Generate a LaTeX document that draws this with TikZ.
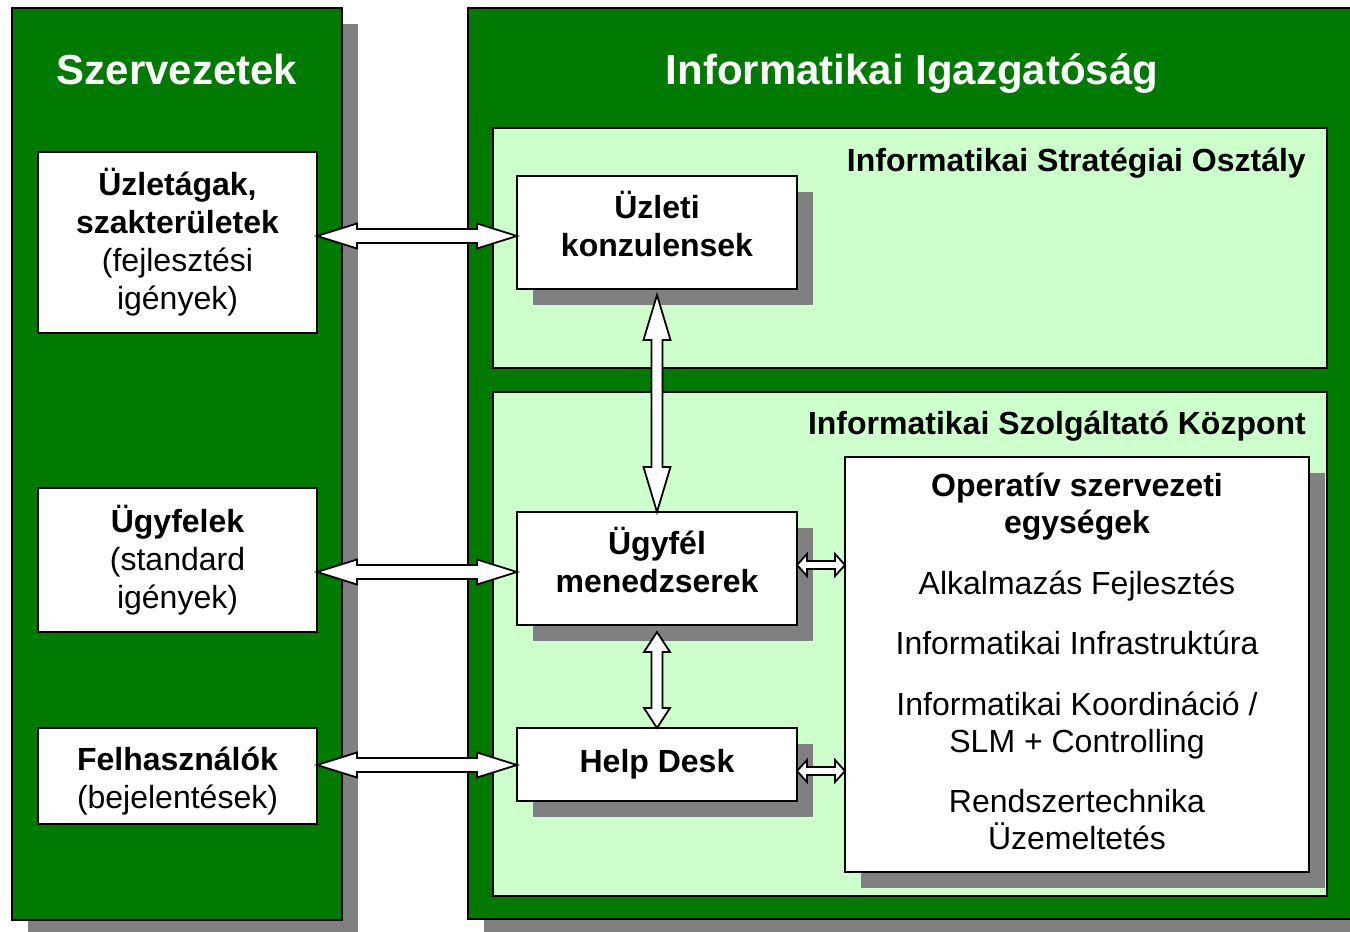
\documentclass[tikz,border=0pt]{standalone}
\usepackage{fontspec}
\setmainfont{Liberation Sans}
\usetikzlibrary{calc,shadows}
\definecolor{dgreen}{RGB}{0,122,0}
\definecolor{lgreen}{RGB}{204,255,204}
\definecolor{shgray}{RGB}{128,128,128}
\tikzset{
  panel/.style={draw=black, line width=2pt, fill=dgreen, anchor=north west, inner sep=0pt, outer sep=0pt},
  subpanel/.style={draw=black, line width=2pt, fill=lgreen, anchor=north west, inner sep=0pt, outer sep=0pt},
  wbox/.style={draw=black, line width=2pt, fill=white, anchor=north west, align=center, inner sep=0pt, outer sep=0pt,
    font=\fontsize{32}{38}\selectfont},
  boxtext/.style={inner sep=0pt, align=center, font=\fontsize{32}{38}\selectfont},
  shad/.style={general shadow={shadow xshift=16pt, shadow yshift=-16pt, fill=shgray}},
  paneltitle/.style={text=white, inner sep=0pt, font=\fontsize{42}{50}\selectfont\bfseries},
  subtitle/.style={text=black, inner sep=0pt, anchor=east, font=\fontsize{32}{38}\selectfont\bfseries},
  blockarrow/.style={draw=black, line width=1.8pt, fill=white, line join=miter}
}
% horizontal double block arrow: #1 left tip, #2 right tip, #3 head half width, #4 shaft half width, #5 head length
\newcommand\hdarrow[5]{%
  \draw[blockarrow] let \p1=(#1), \p2=(#2) in
    (\x1,\y1) -- (\x1+#5,\y1+#3) -- (\x1+#5,\y1+#4) -- (\x2-#5,\y1+#4) -- (\x2-#5,\y1+#3) --
    (\x2,\y1) -- (\x2-#5,\y1-#3) -- (\x2-#5,\y1-#4) -- (\x1+#5,\y1-#4) -- (\x1+#5,\y1-#3) -- cycle;}
% vertical double block arrow: #1 top tip, #2 bottom tip
\newcommand\vdarrow[5]{%
  \draw[blockarrow] let \p1=(#1), \p2=(#2) in
    (\x1,\y1) -- (\x1+#3,\y1-#5) -- (\x1+#4,\y1-#5) -- (\x1+#4,\y2+#5) -- (\x1+#3,\y2+#5) --
    (\x1,\y2) -- (\x1-#3,\y2+#5) -- (\x1-#4,\y2+#5) -- (\x1-#4,\y1-#5) -- (\x1-#3,\y1-#5) -- cycle;}
\begin{document}
\begin{tikzpicture}[x=1pt,y=-1pt]
\useasboundingbox (0,0) rectangle (1350,932);
\clip (0,0) rectangle (1350,932);
\fill[white] (0,0) rectangle (1350,932);

% main panels
\node[panel, shad, minimum width=330, minimum height=912] (left) at (12,8) {};
\node[panel, shad, minimum width=884, minimum height=911] (right) at (468,8) {};
\node[paneltitle] (lefttitle) at (177,69) {Szervezetek};
\node[paneltitle] (righttitle) at (912,74) {Informatikai Igazgatóság};

% sub panels
\node[subpanel, minimum width=834, minimum height=240] (strat) at (493,128) {};
\node[subpanel, minimum width=834, minimum height=504] (szolg) at (493,392) {};
\node[subtitle] (strattitle) at (1306,163) {Informatikai Stratégiai Osztály};
\node[subtitle] (szolgtitle) at (1306,426) {Informatikai Szolgáltató Központ};

% left boxes
\node[wbox, minimum width=279, minimum height=181] (uzlet) at (38,152)
  {\bfseries Üzletágak,\\\bfseries szakterületek\\(fejlesztési\\igények)};
\node[wbox, minimum width=279, minimum height=144] (ugyfelek) at (38,488)
  {\bfseries Ügyfelek\\(standard\\igények)};
\node[wbox, minimum width=279, minimum height=96] (felh) at (38,728) {};
\node[boxtext] (felh-t) at ([yshift=-5]felh.center) {\bfseries Felhasználók\\(bejelentések)};

% right boxes
\node[wbox, shad, minimum width=280, minimum height=113] (konz) at (517,176) {};
\node[boxtext] (konz-t) at ([yshift=8.5]konz.center) {\bfseries Üzleti\\\bfseries konzulensek};
\node[wbox, shad, minimum width=280, minimum height=113] (mened) at (517,512) {};
\node[boxtext] (mened-t) at ([yshift=9]mened.center) {\bfseries Ügyfél\\\bfseries menedzserek};
\node[wbox, shad, minimum width=280, minimum height=73] (help) at (517,728)
  {\bfseries Help Desk};
\node[wbox, shad, minimum width=464, minimum height=415] (ops) at (845,457) {};

% ops text
\node[anchor=north, inner sep=0pt, align=center, font=\fontsize{32}{37}\selectfont] (opstext) at ([yshift=-16]ops.north)
  {\bfseries Operatív szervezeti\\\bfseries egységek\\[24pt]
   Alkalmazás Fejlesztés\\[23pt]
   Informatikai Infrastruktúra\\[24pt]
   Informatikai Koordináció /\\SLM + Controlling\\[23pt]
   Rendszertechnika\\Üzemeltetés};

% connectors
\coordinate (a1l) at (uzlet.east |- 0,236);
\coordinate (a1r) at (konz.west |- 0,236);
\hdarrow{a1l}{a1r}{12.5pt}{7pt}{40pt}
\coordinate (a2l) at (ugyfelek.east |- 0,572);
\coordinate (a2r) at (mened.west |- 0,572);
\hdarrow{a2l}{a2r}{12.5pt}{7pt}{40pt}
\coordinate (a3l) at (felh.east |- 0,765);
\coordinate (a3r) at (help.west |- 0,765);
\hdarrow{a3l}{a3r}{12.5pt}{7pt}{40pt}

\coordinate (v1t) at ([yshift=-6]konz.south);
\coordinate (v1b) at (mened.north);
\vdarrow{v1t}{v1b}{13.5pt}{5.5pt}{45pt}
\coordinate (v2t) at ([yshift=-7]mened.south);
\coordinate (v2b) at (help.north);
\vdarrow{v2t}{v2b}{13pt}{5.5pt}{20pt}

\coordinate (s1l) at (mened.east |- 0,565);
\coordinate (s1r) at (ops.west |- 0,565);
\hdarrow{s1l}{s1r}{11pt}{4pt}{10pt}
\coordinate (s2l) at (help.east |- 0,771);
\coordinate (s2r) at (ops.west |- 0,771);
\hdarrow{s2l}{s2r}{11pt}{4pt}{10pt}
\end{tikzpicture}
\end{document}
